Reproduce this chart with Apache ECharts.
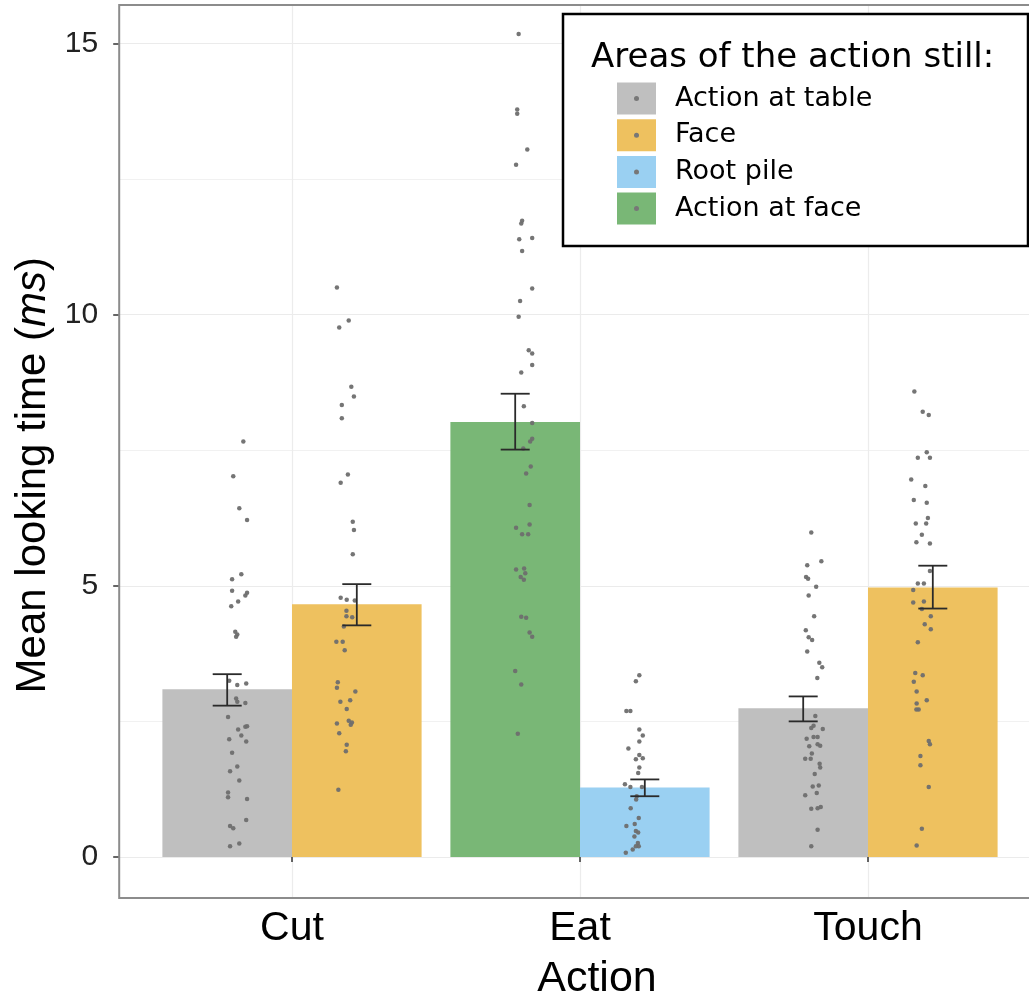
<!DOCTYPE html>
<html>
<head>
<meta charset="utf-8">
<script src="https://cdn.jsdelivr.net/npm/echarts@6/dist/echarts.min.js"></script>
<style>html,body{margin:0;padding:0;background:#fff;}#c{width:1029px;height:1001px;}</style>
</head>
<body>
<div id="c"></div>
<script>
// ---------- DATA ----------
const categories = ['Cut', 'Eat', 'Touch'];
const yTicks = [0, 5, 10, 15];
const legendTitle = 'Areas of the action still:';
const areaNames = ['Action at table', 'Face', 'Root pile', 'Action at face'];

// bar means (per category; null = not shown)
const meanTable   = [3.09, null, 2.74];
const meanFace    = [4.66, null, 4.97];
const meanRoot    = [null, 1.28, null];
const meanActFace = [null, 8.02, null];

// error bar bounds
const lowTable   = [2.79, null, 2.50], highTable   = [3.37, null, 2.96];
const lowFace    = [4.27, null, 4.58], highFace    = [5.03, null, 5.37];
const lowRoot    = [null, 1.12, null], highRoot    = [null, 1.43, null];
const lowActFace = [null, 7.51, null], highActFace = [null, 8.54, null];

// individual points (values and horizontal jitter as fraction of category band)
const cutTableVals = [7.66,7.02,6.43,6.21,5.21,5.12,4.91,4.87,4.82,4.71,4.62,4.15,4.10,4.06,3.25,3.20,3.17,2.92,2.86,2.84,2.58,2.41,2.40,2.35,2.24,2.17,2.13,1.92,1.67,1.58,1.41,1.19,1.10,1.07,0.68,0.57,0.53,0.25,0.20];
const cutTableJit  = [.056,.021,.042,.069,.049,.017,.017,.069,.063,.038,.014,.028,.035,.031,.007,.066,.035,.031,.035,.063,.003,.069,.063,.038,.049,.007,.066,.017,.035,.010,.042,.003,.003,.069,.066,.010,.021,.042,.010];
const cutFaceVals  = [10.50,9.89,9.76,8.67,8.49,8.33,8.09,7.05,6.90,6.18,6.03,5.58,4.78,4.74,4.73,4.54,4.44,4.42,4.25,3.97,3.97,3.81,3.22,3.12,3.05,2.89,2.86,2.73,2.51,2.48,2.44,2.46,2.28,2.07,1.95,1.24];
const cutFaceJit   = [-.069,-.028,-.061,-.019,-.010,-.052,-.052,-.031,-.056,-.014,-.010,-.014,-.056,-.035,-.007,-.036,-.036,-.016,-.045,-.071,-.049,-.042,-.066,-.069,-.005,-.023,-.057,-.035,-.028,-.017,-.021,-.069,-.061,-.035,-.038,-.064];
const eatActFaceVals = [15.17,13.78,13.70,13.04,12.76,11.73,11.68,11.41,11.39,11.17,10.48,10.25,9.96,9.34,9.28,9.07,8.93,8.31,8.00,7.71,7.66,7.53,7.20,7.07,6.49,6.13,6.07,5.95,5.95,5.32,5.30,5.23,5.16,5.11,4.43,4.41,4.14,4.06,3.43,3.18,2.27];
const eatActFaceJit  = [.012,.007,.007,.042,.003,.024,.021,.059,.014,.024,.059,.017,.012,.047,.059,.059,.021,.030,.059,.059,.052,.028,.054,.038,.050,.050,.003,.024,.045,.031,.003,.035,.019,.030,.021,.038,.050,.059,.000,.021,.009];
const eatRootVals = [3.35,3.24,2.69,2.69,2.35,2.24,2.13,2.00,1.88,1.82,1.80,1.65,1.55,1.34,1.29,1.29,1.12,1.06,0.90,0.72,0.61,0.57,0.48,0.45,0.38,0.26,0.20,0.20,0.14,0.08];
const eatRootJit  = [-.019,-.031,-.064,-.050,-.019,-.007,-.019,-.057,-.019,-.007,-.031,-.019,-.023,-.069,-.050,-.010,-.028,-.030,-.049,-.021,-.035,-.064,-.031,-.023,-.036,-.024,-.031,-.021,-.042,-.066];
const touchTableVals = [5.98,5.45,5.38,5.16,5.13,4.98,4.82,4.44,4.18,4.05,4.00,3.79,3.58,3.50,3.30,2.60,2.42,2.38,2.36,2.21,2.21,2.18,2.08,2.05,2.04,1.91,1.81,1.81,1.72,1.65,1.53,1.32,1.30,1.18,1.14,0.92,0.90,0.89,0.50,0.20];
const touchTableJit  = [.028,.063,.014,.010,.017,.045,.019,.038,.009,.019,.031,.014,.056,.066,.049,.042,.036,.028,.068,.036,.050,.012,.050,.059,.021,.030,.007,.026,.057,.059,.040,.054,.033,.047,.007,.061,.050,.028,.050,.028];
const touchFaceVals = [8.58,8.21,8.15,7.46,7.36,7.36,6.96,6.84,6.58,6.53,6.25,6.15,6.15,5.94,5.80,5.78,5.27,5.04,5.04,4.92,4.71,4.69,4.57,4.44,4.29,4.20,3.96,3.39,3.35,3.23,3.05,2.89,2.83,2.72,2.72,2.14,2.08,1.86,1.69,1.29,0.52,0.21];
const touchFaceJit  = [-.064,-.035,-.014,-.021,-.052,-.010,-.075,-.026,-.066,-.021,-.017,-.023,-.059,-.038,-.057,-.010,-.010,-.052,-.031,-.068,-.031,-.068,-.038,-.007,-.028,-.007,-.052,-.061,-.035,-.066,-.056,-.021,-.056,-.049,-.057,-.014,-.010,-.043,-.043,-.014,-.038,-.056];

// ---------- STYLE / LAYOUT ----------
const barColors = ['#bfbfbf', '#eec15f', '#9ad0f2', '#79b776'];
const halfBar = 0.225;        // half of bar width, in category bands (barWidth 45%)
const sides = [-1, 1, 1, -1]; // left/right slot of each area
const FONT = '"Liberation Sans", Arial, sans-serif';
const LFONT = '"DejaVu Sans", sans-serif';

const means = [meanTable, meanFace, meanRoot, meanActFace];
const lows  = [lowTable, lowFace, lowRoot, lowActFace];
const highs = [highTable, highFace, highRoot, highActFace];

const errData = [];
means.forEach((m, a) => m.forEach((v, c) => {
  if (v != null) errData.push([c + sides[a] * halfBar, lows[a][c], highs[a][c]]);
}));

const cells = [
  [0, -1, cutTableVals, cutTableJit],
  [0,  1, cutFaceVals, cutFaceJit],
  [1, -1, eatActFaceVals, eatActFaceJit],
  [1,  1, eatRootVals, eatRootJit],
  [2, -1, touchTableVals, touchTableJit],
  [2,  1, touchFaceVals, touchFaceJit]
];
const dotData = [];
cells.forEach(([c, s, vals, jit]) => vals.forEach((v, i) => dotData.push([c + s * halfBar + jit[i], v])));

const stacks = ['L', 'R', 'R', 'L'];
const barSeries = areaNames.map((n, a) => ({
  name: n, type: 'bar', stack: stacks[a], xAxisIndex: 0, yAxisIndex: 0,
  data: means[a].map(v => v == null ? '-' : v),
  barWidth: '45%', barGap: '0%',
  itemStyle: { color: barColors[a] }, silent: true, z: 2
}));

const chart = echarts.init(document.getElementById('c'), null, { renderer: 'canvas' });
chart.setOption({
  animation: false,
  backgroundColor: '#fff',
  grid: [
    { left: 148, top: 5, width: 864, height: 893, outerBoundsMode: 'none', containLabel: false },
    { left: 119.2, top: 43.3, width: 921.6, height: 813.7, outerBoundsMode: 'none', containLabel: false },
    { left: 292, top: 5, width: 576, height: 893, outerBoundsMode: 'none', containLabel: false }
  ],
  xAxis: [
    { type: 'category', gridIndex: 0, data: categories,
      axisLine: { show: false },
      axisTick: { show: true, alignWithLabel: true, length: 5, lineStyle: { color: '#333', width: 1.5 } },
      axisLabel: { fontFamily: FONT, fontSize: 41, color: '#000', margin: 10 },
      name: 'Action', nameLocation: 'middle', nameGap: 60,
      nameTextStyle: { fontFamily: FONT, fontSize: 43, color: '#000', padding: [0, 0, 0, 34] },
      splitLine: { show: false } },
    { type: 'value', gridIndex: 0, min: -0.5, max: 2.5, show: false },
    { type: 'value', gridIndex: 1, min: 0, max: 1, show: false },
    { type: 'category', gridIndex: 2, data: ['a', 'b', 'c'], boundaryGap: false,
      axisLine: { show: false }, axisTick: { show: false }, axisLabel: { show: false },
      splitLine: { show: true, lineStyle: { color: '#ececec', width: 1.2 } } }
  ],
  yAxis: [
    { type: 'value', gridIndex: 0, min: -0.756, max: 15.706, show: false },
    { type: 'value', gridIndex: 1, min: yTicks[0], max: yTicks[yTicks.length - 1], interval: 5,
      axisLine: { show: false },
      axisTick: { show: true, length: 6, lineStyle: { color: '#333', width: 1.5 } },
      axisLabel: { fontFamily: FONT, fontSize: 30, color: '#222', margin: 21 },
      splitLine: { show: true, lineStyle: { color: '#ebebeb', width: 1.2 } },
      minorTick: { show: false, splitNumber: 2 },
      minorSplitLine: { show: true, lineStyle: { color: '#f1f1f1', width: 1 } },
      name: '{n|Mean looking time (}{i|ms}{n|)}', nameLocation: 'middle', nameGap: 64,
      nameTextStyle: { padding: [0, 50, 0, 0], rich: {
        n: { fontFamily: FONT, fontSize: 42, color: '#000' },
        i: { fontFamily: FONT, fontSize: 42, color: '#000', fontStyle: 'italic' } } } },
    { type: 'value', gridIndex: 2, min: 0, max: 1, show: false }
  ],
  legend: [
    { data: areaNames, orient: 'vertical', left: 617, top: 82.5, padding: 0,
      itemWidth: 39, itemHeight: 32, itemGap: 4.7, icon: 'rect', selectedMode: false, z: 10,
      textStyle: { fontFamily: LFONT, fontSize: 27, color: '#000', padding: [0, 0, 0, 14] } },
    { data: areaNames.map(n => ({ name: n, icon: 'circle', itemStyle: { color: '#777' } })),
      orient: 'vertical', left: 634, top: 96, padding: 0,
      itemWidth: 5, itemHeight: 5, itemGap: 31.7, selectedMode: false, z: 11,
      formatter: () => '', textStyle: { fontSize: 1 } }
  ],
  graphic: { elements: [
    { type: 'rect', z: 5, shape: { x: 563, y: 14, width: 465, height: 232 },
      style: { fill: '#fff', stroke: '#000', lineWidth: 2.5 } },
    { type: 'text', z: 12, style: { x: 591, y: 58, text: legendTitle, font: '34px ' + LFONT,
      fill: '#000', verticalAlign: 'middle' } },
    { type: 'rect', z: 20, silent: true, shape: { x: 119.2, y: 5, width: 921.6, height: 893 },
      style: { fill: 'none', stroke: '#8c8c8c', lineWidth: 2 } }
  ] },
  series: [
    ...barSeries,
    { name: 'points', type: 'scatter', xAxisIndex: 1, yAxisIndex: 0, data: dotData,
      symbolSize: 4.5, itemStyle: { color: '#6e6e6e', opacity: 0.95 }, silent: true, clip: false, z: 4 },
    { name: 'se', type: 'custom', xAxisIndex: 1, yAxisIndex: 0, data: errData, silent: true, z: 5, clip: false,
      renderItem: (params, api) => {
        const x = api.value(0);
        const lo = api.coord([x, api.value(1)]);
        const hi = api.coord([x, api.value(2)]);
        const cap = 14.5;
        const st = { stroke: '#2a2a2a', lineWidth: 1.8 };
        return { type: 'group', children: [
          { type: 'line', shape: { x1: lo[0], y1: lo[1], x2: hi[0], y2: hi[1] }, style: st },
          { type: 'line', shape: { x1: hi[0] - cap, y1: hi[1], x2: hi[0] + cap, y2: hi[1] }, style: st },
          { type: 'line', shape: { x1: lo[0] - cap, y1: lo[1], x2: lo[0] + cap, y2: lo[1] }, style: st }
        ] };
      } }
  ]
});
</script>
</body>
</html>
